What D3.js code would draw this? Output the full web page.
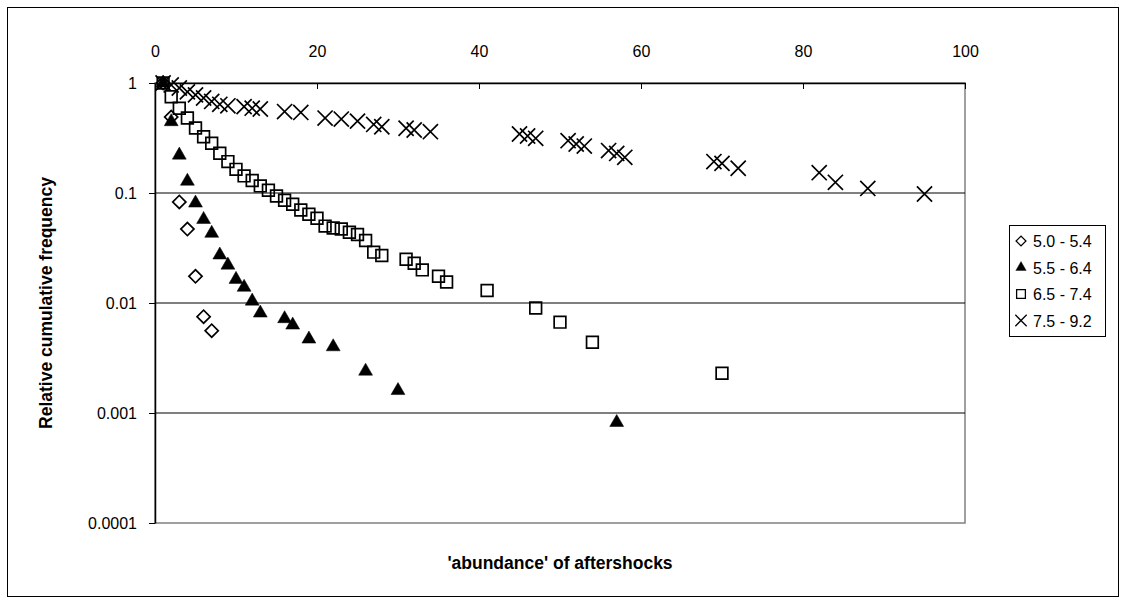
<!DOCTYPE html>
<html>
<head>
<meta charset="utf-8">
<script src="https://cdnjs.cloudflare.com/ajax/libs/d3/7.8.5/d3.min.js"></script>
<style>
	body { margin: 0; background: #fff; }
	svg { font-family: Arial, "Liberation Sans", sans-serif; }
</style>
</head>
<body>
<svg width="1126" height="603"></svg>
<script>
// series labels (magnitude ranges)
var seriesNames = ["5.0 - 5.4", "5.5 - 6.4", "6.5 - 7.4", "7.5 - 9.2"];

// 5.0 - 5.4
var m50x = [1, 2, 3, 4, 5, 6, 7];
var m50y = [1, 0.49, 0.083, 0.047, 0.0175, 0.0075, 0.0056];

// 5.5 - 6.4
var m55x = [1, 2, 3, 4, 5, 6, 7, 8, 9, 10, 11, 12, 13, 16, 17, 19, 22, 26, 30, 57];
var m55y = [1, 0.445, 0.221, 0.128, 0.081, 0.0575, 0.043, 0.0273, 0.0221, 0.0164,
	0.0139, 0.0104, 0.0081, 0.0072, 0.0063, 0.0047, 0.0040, 0.0024, 0.0016, 0.00082];

// 6.5 - 7.4
var m65x = [1, 2, 3, 4, 5, 6, 7, 8, 9, 10, 11, 12, 13, 14, 15, 16, 17, 18, 19, 20,
	21, 22, 23, 24, 25, 26, 27, 28, 31, 32, 33, 35, 36, 41, 47, 50, 54, 70];
var m65y = [1, 0.75, 0.59, 0.48, 0.39, 0.325, 0.283, 0.23, 0.193, 0.164, 0.143, 0.13,
	0.116, 0.106, 0.094, 0.086, 0.079, 0.07, 0.064, 0.059, 0.05, 0.048, 0.047, 0.044,
	0.042, 0.037, 0.029, 0.027, 0.025, 0.023, 0.020, 0.0175, 0.0155, 0.013, 0.009,
	0.0067, 0.0044, 0.0023];

// 7.5 - 9.2
var m75x = [1, 2, 3, 4, 5, 6, 7, 8, 9, 11, 12, 13, 16, 18, 21, 23, 25, 27, 28, 31,
	32, 34, 45, 46, 47, 51, 52, 53, 56, 57, 58, 69, 70, 72, 82, 84, 88, 95];
var m75y = [1, 0.96, 0.90, 0.83, 0.78, 0.73, 0.68, 0.64, 0.62, 0.61, 0.59, 0.58, 0.55,
	0.54, 0.48, 0.47, 0.45, 0.42, 0.40, 0.388, 0.374, 0.361, 0.344, 0.33, 0.314, 0.299,
	0.279, 0.267, 0.243, 0.229, 0.211, 0.193, 0.186, 0.168, 0.153, 0.125, 0.11, 0.098];

var xTicks = [0, 20, 40, 60, 80, 100];
var yTicks = [1, 0.1, 0.01, 0.001, 0.0001];
var yTickLabels = ["1", "0.1", "0.01", "0.001", "0.0001"];

var svg = d3.select("svg"),
	width = +svg.attr("width"),
	height = +svg.attr("height");

var plotLeft = 155, plotRight = 965, plotTop = 83, plotBottom = 523;

var x = d3.scaleLinear().domain([0, 100]).range([plotLeft, plotRight]);
var y = d3.scaleLog().domain([0.0001, 1]).range([plotBottom, plotTop]);

// outer chart border
svg.append("rect")
	.attr("x", 7.5).attr("y", 7.5)
	.attr("width", 1111).attr("height", 589)
	.attr("fill", "none").attr("stroke", "#000").attr("stroke-width", 1);

// plot area border (grey)
svg.append("rect")
	.attr("x", plotLeft).attr("y", plotTop)
	.attr("width", plotRight - plotLeft).attr("height", plotBottom - plotTop)
	.attr("fill", "none").attr("stroke", "#808080").attr("stroke-width", 1.5);

// gridlines
svg.append("g").selectAll("line")
	.data(yTicks.slice(1, 4))
	.enter().append("line")
		.attr("x1", plotLeft).attr("x2", plotRight)
		.attr("y1", function(d) { return y(d); })
		.attr("y2", function(d) { return y(d); })
		.attr("stroke", "#000").attr("stroke-width", 1);

// x axis on top, ticks pointing into the plot
var gx = svg.append("g")
	.attr("transform", "translate(0," + plotTop + ")")
	.call(d3.axisTop(x).tickValues(xTicks).tickSize(-6).tickPadding(26).tickSizeOuter(0));
gx.select(".domain").attr("stroke", "#000").attr("stroke-width", 1.5);
gx.selectAll(".tick line").attr("stroke", "#000");
gx.selectAll(".tick").filter(function(d) { return d == 0; }).select("line").remove();
gx.selectAll("text").attr("font-size", 16).attr("font-family", "Arial, 'Liberation Sans', sans-serif").attr("fill", "#000");

// y axis
var gy = svg.append("g")
	.attr("transform", "translate(" + plotLeft + ",0)")
	.call(d3.axisLeft(y).tickValues(yTicks).tickSize(6).tickPadding(12).tickSizeOuter(0)
		.tickFormat(function(d, i) { return yTickLabels[i]; }));
gy.select(".domain").attr("stroke", "#000").attr("stroke-width", 1.5);
gy.selectAll(".tick line").attr("stroke", "#000");
gy.selectAll("text").attr("font-size", 16).attr("font-family", "Arial, 'Liberation Sans', sans-serif").attr("fill", "#000");

// axis titles
svg.append("text")
	.attr("x", (plotLeft + plotRight) / 2).attr("y", 569)
	.attr("text-anchor", "middle")
	.attr("font-weight", "bold").attr("font-size", 17.5)
	.text("'abundance' of aftershocks");

svg.append("text")
	.attr("transform", "translate(52," + ((plotTop + plotBottom) / 2) + ") rotate(-90)")
	.attr("text-anchor", "middle")
	.attr("font-weight", "bold").attr("font-size", 17.5)
	.text("Relative cumulative frequency");

// marker shapes
var markerSize = 12;
var symDiamond = d3.symbol().type(d3.symbolSquare).size(markerSize * markerSize * 0.6)();
var symTriangle = d3.symbol().type(d3.symbolTriangle).size(markerSize * markerSize * 0.58)();
var symSquare = d3.symbol().type(d3.symbolSquare).size(markerSize * markerSize * 0.95)();
var symCross = d3.symbol().type(d3.symbolTimes).size(markerSize * markerSize * 1.05)();

var styles = [
	{ xs: m50x, ys: m50y, path: symDiamond, rot: 45, fill: "#fff", stroke: "#000", sw: 1.7 },
	{ xs: m55x, ys: m55y, path: symTriangle, rot: 0, fill: "#000", stroke: "#000", sw: 0.5 },
	{ xs: m65x, ys: m65y, path: symSquare, rot: 0, fill: "none", stroke: "#000", sw: 1.7 },
	{ xs: m75x, ys: m75y, path: symCross, rot: 0, fill: "none", stroke: "#000", sw: 1.7 }
];

styles.forEach(function(s) {
	svg.append("g").selectAll("path")
		.data(s.xs.map(function(v, i) { return [v, s.ys[i]]; }))
		.enter().append("path")
			.attr("d", s.path)
			.attr("transform", function(d) {
				return "translate(" + x(d[0]) + "," + y(d[1]) + ") rotate(" + s.rot + ")";
			})
			.attr("fill", s.fill)
			.attr("stroke", s.stroke)
			.attr("stroke-width", s.sw);
});

// legend
var legend = svg.append("g").attr("transform", "translate(1009,225)");
legend.append("rect")
	.attr("x", 0.5).attr("y", 0.5)
	.attr("width", 96).attr("height", 111)
	.attr("fill", "#fff").attr("stroke", "#000");

legend.selectAll("g")
	.data(seriesNames)
	.enter().append("g")
		.attr("transform", function(d, i) { return "translate(0," + (16 + i * 26.5) + ")"; })
		.each(function(d, i) {
			var g = d3.select(this);
			g.append("path")
				.attr("d", styles[i].path)
				.attr("transform", "translate(12,0) rotate(" + styles[i].rot + ") scale(0.75)")
				.attr("fill", styles[i].fill)
				.attr("stroke", styles[i].stroke)
				.attr("stroke-width", styles[i].sw);
			g.append("text")
				.attr("x", 24).attr("y", 6)
				.attr("font-size", 16)
				.text(d);
		});
</script>
</body>
</html>
